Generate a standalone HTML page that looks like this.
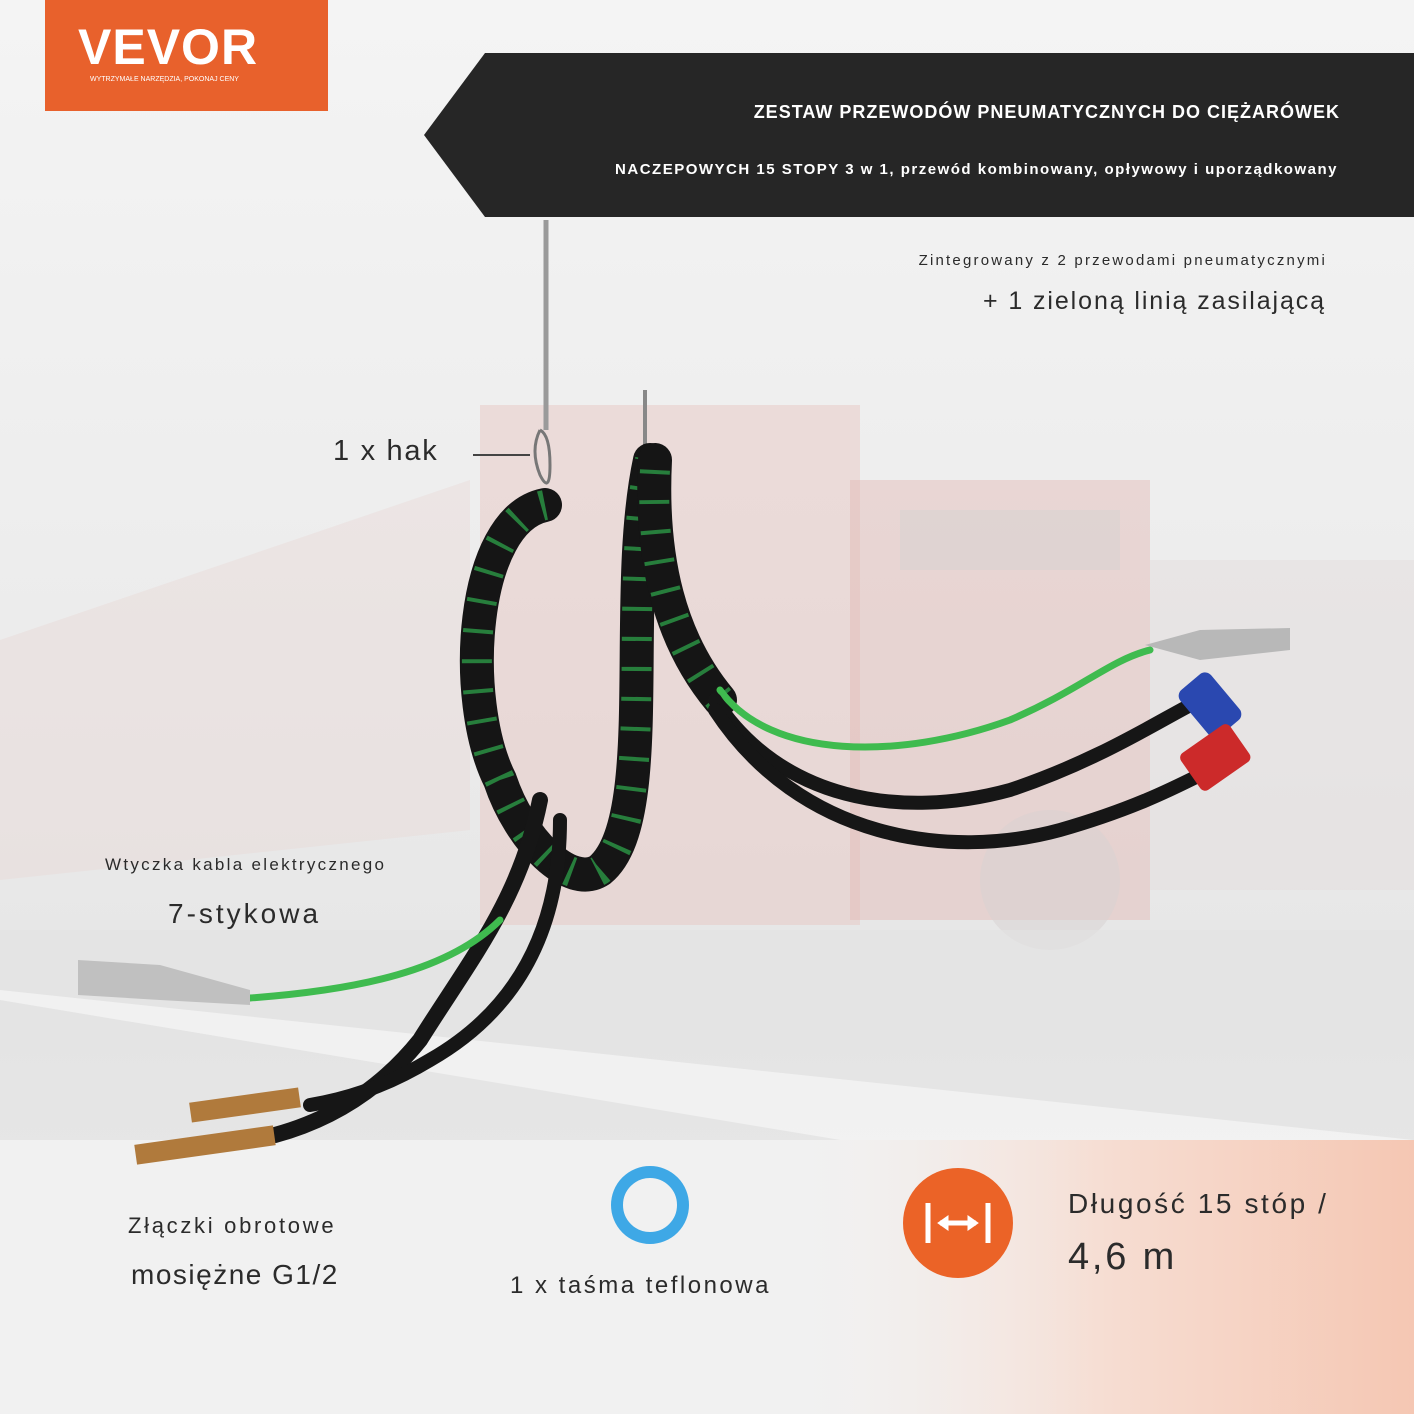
<!DOCTYPE html>
<html><head><meta charset="utf-8"><style>
html,body{margin:0;padding:0;width:1414px;height:1414px;overflow:hidden;font-family:"Liberation Sans",sans-serif;}
.t{position:absolute;color:#2b2b2b;white-space:nowrap;}
</style></head><body>
<svg width="1414" height="1414" style="position:absolute;left:0;top:0">
<defs>
<linearGradient id="bg" x1="0" y1="0" x2="0" y2="1">
<stop offset="0" stop-color="#f4f4f4"/><stop offset="0.45" stop-color="#ececec"/><stop offset="0.7" stop-color="#e6e6e6"/><stop offset="1" stop-color="#f0f0f0"/></linearGradient>
<linearGradient id="peach" x1="0" y1="0" x2="1" y2="0">
<stop offset="0" stop-color="#f3eeec" stop-opacity="0"/><stop offset="0.5" stop-color="#f6ddd2"/><stop offset="1" stop-color="#f5c7b3"/></linearGradient>
</defs>
<rect width="1414" height="1414" fill="url(#bg)"/>
<polygon points="0,640 470,480 470,830 0,880" fill="#e8d9d8" opacity="0.45"/>
<rect x="480" y="405" width="380" height="520" fill="#e6c4bf" opacity="0.45"/>
<rect x="850" y="480" width="300" height="440" fill="#e3b9b3" opacity="0.45"/>
<rect x="900" y="510" width="220" height="60" fill="#d9d2d2" opacity="0.6"/>
<rect x="1150" y="560" width="264" height="330" fill="#e4e0e0" opacity="0.6"/>
<circle cx="1050" cy="880" r="70" fill="#d8d2d2" opacity="0.5"/>
<rect x="0" y="930" width="1414" height="210" fill="#e2e2e2" opacity="0.6"/>
<polygon points="0,990 0,1000 900,1150 1414,1150 1414,1140" fill="#f7f7f7" opacity="0.7"/>
<rect x="0" y="1140" width="1414" height="274" fill="#f1f1f1"/>
<rect x="800" y="1140" width="614" height="274" fill="url(#peach)"/>
<rect x="45" y="0" width="283" height="111" fill="#e8612c"/>
<polygon points="485,53 1414,53 1414,217 485,217 424,135" fill="#262626"/>
<line x1="546" y1="220" x2="546" y2="430" stroke="#9a9a9a" stroke-width="5"/>
<line x1="473" y1="455" x2="530" y2="455" stroke="#444" stroke-width="2"/>
<path d="M540 430 q-10 20 0 45 q10 20 10 -10 q0 -30 -10 -35" fill="none" stroke="#777" stroke-width="3"/>
<line x1="645" y1="390" x2="645" y2="445" stroke="#888" stroke-width="4"/>
<g fill="none" stroke-linecap="round">
<path d="M545 505 C470 520 460 700 500 780 C520 840 570 890 600 870 C660 820 620 600 650 460" stroke="#151515" stroke-width="34"/>
<path d="M545 505 C470 520 460 700 500 780 C520 840 570 890 600 870 C660 820 620 600 650 460" stroke="#2ea24a" stroke-width="30" stroke-linecap="butt" stroke-dasharray="4 26" opacity="0.75"/>
<path d="M655 460 C650 560 670 640 720 700" stroke="#151515" stroke-width="34"/>
<path d="M655 470 C650 560 670 640 720 700" stroke="#2ea24a" stroke-width="30" stroke-linecap="butt" stroke-dasharray="4 26" opacity="0.75"/>
<path d="M720 690 C770 760 900 760 1010 720 C1080 690 1110 660 1150 650" stroke="#3fbb4f" stroke-width="7"/>
<path d="M715 700 C780 800 900 820 1010 790 C1100 760 1160 720 1200 700" stroke="#161616" stroke-width="14"/>
<path d="M715 710 C800 840 950 860 1060 830 C1130 810 1170 790 1200 775" stroke="#161616" stroke-width="14"/>
<path d="M540 800 C520 900 470 960 420 1040 C380 1090 330 1120 275 1135" stroke="#161616" stroke-width="16"/>
<path d="M560 820 C560 950 500 1020 430 1060 C380 1090 340 1100 310 1105" stroke="#161616" stroke-width="14"/>
<path d="M500 920 C450 970 360 990 250 998" stroke="#3fbb4f" stroke-width="7"/>
</g>
<path d="M1145 645 L1200 630 L1290 628 L1290 650 L1200 660 Z" fill="#b8b8b8"/>
<rect x="1190" y="675" width="40" height="60" rx="8" fill="#2a48b0" transform="rotate(-40 1210 705)"/>
<rect x="1185" y="735" width="60" height="45" rx="6" fill="#cc2a2a" transform="rotate(-35 1215 757)"/>
<path d="M78 960 L160 965 L250 990 L250 1005 L160 1000 L78 995 Z" fill="#c0c0c0"/>
<rect x="190" y="1095" width="110" height="20" fill="#b07a3c" transform="rotate(-8 245 1105)"/>
<rect x="135" y="1135" width="140" height="20" fill="#b07a3c" transform="rotate(-8 205 1145)"/>
<circle cx="650" cy="1205" r="33" fill="none" stroke="#3ea8e6" stroke-width="12"/>
<circle cx="958" cy="1223" r="55" fill="#eb6327"/>
<g stroke="#fff" stroke-width="5" fill="#fff">
<line x1="928" y1="1203" x2="928" y2="1243"/><line x1="988" y1="1203" x2="988" y2="1243"/>
<line x1="940" y1="1223" x2="976" y2="1223"/>
<polygon points="938,1223 948,1216 948,1230" stroke-width="1"/><polygon points="978,1223 968,1216 968,1230" stroke-width="1"/>
</g>
</svg>
<div class="t" style="left:78px;top:18px;color:#fff;font-weight:bold;font-size:50px;letter-spacing:1px">VEVOR</div>
<div class="t" style="left:90px;top:76px;color:#fff;font-size:7px">WYTRZYMAŁE NARZĘDZIA, POKONAJ CENY</div>
<div class="t" style="right:74px;top:102px;color:#fff;font-weight:bold;font-size:18px;letter-spacing:1px">ZESTAW PRZEWODÓW PNEUMATYCZNYCH DO CIĘŻARÓWEK</div>
<div class="t" style="right:76px;top:161px;color:#fff;font-weight:bold;font-size:15px;letter-spacing:1.5px">NACZEPOWYCH 15 STOPY 3 w 1, przewód kombinowany, opływowy i uporządkowany</div>
<div class="t" style="right:87px;top:252px;font-size:15px;letter-spacing:2.2px">Zintegrowany z 2 przewodami pneumatycznymi</div>
<div class="t" style="right:88px;top:287px;font-size:25px;letter-spacing:1.9px">+ 1 zieloną linią zasilającą</div>
<div class="t" style="left:333px;top:435px;font-size:29px;letter-spacing:1.7px">1 x hak</div>
<div class="t" style="left:105px;top:855px;font-size:17px;letter-spacing:2.3px">Wtyczka kabla elektrycznego</div>
<div class="t" style="left:168px;top:898px;font-size:28px;letter-spacing:3px">7-stykowa</div>
<div class="t" style="left:128px;top:1213px;font-size:22px;letter-spacing:2.7px">Złączki obrotowe</div>
<div class="t" style="left:131px;top:1259px;font-size:28px;letter-spacing:1.5px">mosiężne G1/2</div>
<div class="t" style="left:510px;top:1272px;font-size:24px;letter-spacing:2.5px">1 x taśma teflonowa</div>
<div class="t" style="left:1068px;top:1188px;font-size:28px;letter-spacing:2.6px">Długość 15 stóp /</div>
<div class="t" style="left:1068px;top:1236px;font-size:38px;letter-spacing:2.8px">4,6 m</div>
</body></html>
